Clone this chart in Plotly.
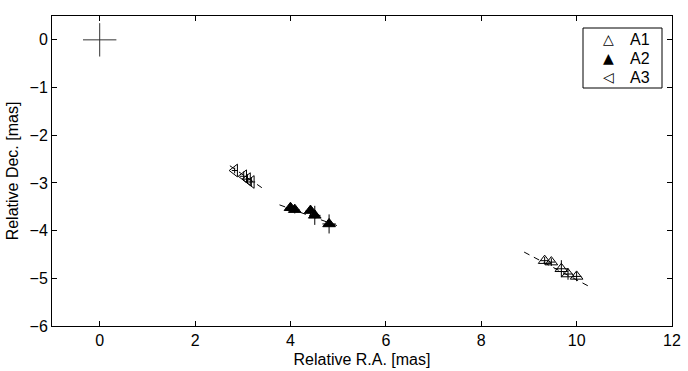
import plotly.graph_objects as go

# Data
a1_x = [9.33, 9.47, 9.68, 9.82, 10.00]
a1_y = [-4.63, -4.66, -4.80, -4.91, -4.96]
a1_ex = [0.08, 0.08, 0.14, 0.10, 0.10]
a1_ey = [0.08, 0.08, 0.18, 0.12, 0.10]

a2_x = [4.00, 4.09, 4.42, 4.51, 4.81]
a2_y = [-3.52, -3.56, -3.58, -3.68, -3.86]
a2_ex = [0.10, 0.10, 0.10, 0.12, 0.14]
a2_ey = [0.08, 0.08, 0.10, 0.20, 0.20]

a3_x = [2.83, 3.02, 3.10, 3.18]
a3_y = [-2.74, -2.86, -2.92, -2.98]
a3_ex = [0.06, 0.08, 0.08, 0.08]
a3_ey = [0.06, 0.10, 0.10, 0.10]

fit1_x = [8.90, 10.28]
fit1_y = [-4.45, -5.18]
fit2_x = [3.77, 4.99]
fit2_y = [-3.46, -3.90]
fit3_x = [2.73, 3.40]
fit3_y = [-2.64, -3.10]

ref_x = [0.0]
ref_y = [0.0]
ref_err = [0.35]

series_names = ["A1", "A2", "A3"]
legend_glyphs = ["\u25B3", "\u25B2", "\u25C1"]

FONT = "Liberation Sans, Arial, sans-serif"
FS_TICK = 16
FS_TITLE = 16

fig = go.Figure()

for fx, fy in [(fit1_x, fit1_y), (fit2_x, fit2_y), (fit3_x, fit3_y)]:
    fig.add_trace(go.Scatter(x=fx, y=fy, mode="lines",
                             line=dict(color="black", width=1, dash="6px,5px"),
                             showlegend=False, hoverinfo="skip"))

fig.add_trace(go.Scatter(
    x=ref_x, y=ref_y, mode="markers", marker=dict(size=1, color="rgba(0,0,0,0)"),
    error_x=dict(type="data", array=ref_err, color="#333", thickness=1, width=0),
    error_y=dict(type="data", array=ref_err, color="#333", thickness=1, width=0),
    showlegend=False))

def err(arr):
    return dict(type="data", array=arr, color="black", thickness=1, width=0)

symbols = ["triangle-up-open", "triangle-up", "triangle-left-open"]
for name, xs, ys, ex, ey, sym in [
        (series_names[0], a1_x, a1_y, a1_ex, a1_ey, symbols[0]),
        (series_names[1], a2_x, a2_y, a2_ex, a2_ey, symbols[1]),
        (series_names[2], a3_x, a3_y, a3_ex, a3_ey, symbols[2])]:
    fig.add_trace(go.Scatter(x=xs, y=ys, mode="markers", name=name, showlegend=False,
                             marker=dict(symbol=sym, size=11, color="black",
                                         line=dict(width=1, color="black")),
                             error_x=err(ex), error_y=err(ey)))

axis_common = dict(showgrid=False, zeroline=False, showline=True, linecolor="black",
                   linewidth=1, mirror="ticks", ticks="inside", ticklen=5,
                   tickcolor="black", automargin=False,
                   tickfont=dict(size=FS_TICK, color="black", family=FONT))

fig.update_xaxes(range=[-1, 12], tickvals=[0, 2, 4, 6, 8, 10, 12],
                 title=dict(text="Relative R.A. [mas]", font=dict(size=FS_TITLE, color="black", family=FONT),
                            standoff=5),
                 **axis_common)
fig.update_yaxes(range=[-6, 0.5], tickvals=[0, -1, -2, -3, -4, -5, -6],
                 title=dict(text="Relative Dec. [mas]", font=dict(size=FS_TITLE, color="black", family=FONT),
                            standoff=6),
                 **axis_common)

# Legend box (MATLAB style) built from shapes + text
W, H, L, B = 620, 310, 52, 45
def px_x(p):
    return (p - L) / W
def px_y(p):
    return (371 - B - p) / H

fig.add_shape(type="rect", xref="paper", yref="paper",
              x0=px_x(583), x1=px_x(662), y0=px_y(88), y1=px_y(28),
              line=dict(color="black", width=1), fillcolor="white", layer="above")
for i, (nm, g) in enumerate(zip(series_names, legend_glyphs)):
    yy = px_y(39 + 19 * i)
    fig.add_annotation(xref="paper", yref="paper", x=px_x(608), y=yy, text=g,
                       showarrow=False, xanchor="center", yanchor="middle",
                       font=dict(size=14, family="DejaVu Sans", color="black"))
    fig.add_annotation(xref="paper", yref="paper", x=px_x(628), y=yy, text=nm,
                       showarrow=False, xanchor="left", yanchor="middle",
                       font=dict(size=16, family=FONT, color="black"))

fig.update_layout(
    width=688, height=371,
    margin=dict(l=L, r=16, t=16, b=B, autoexpand=False),
    paper_bgcolor="white", plot_bgcolor="white",
    font=dict(family=FONT, size=FS_TICK, color="black"),
    showlegend=False,
)

fig.write_html("out.html", config={"displayModeBar": False},
               post_script="document.body.style.margin='0px';document.body.style.padding='0px';")
